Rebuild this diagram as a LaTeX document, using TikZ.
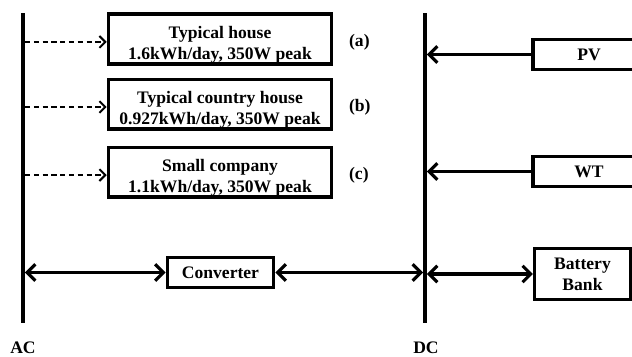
\documentclass[tikz,border=0pt]{standalone}
\usepackage{fontspec}
\setmainfont{Liberation Serif}
\usetikzlibrary{arrows.meta, positioning}

\begin{document}
\begin{tikzpicture}[x=0.03cm, y=-0.03cm,
    font=\bfseries\fontsize{15}{18}\selectfont,
    block/.style={rectangle, draw, line width=2.8pt, align=center, inner sep=0pt},
    loadbox/.style={block, minimum width=6.7cm, text height=38.5pt, text depth=4pt},
    tag/.style={right=0.35cm of #1, yshift=-2.5pt},
    bus/.style={rectangle, fill=black, inner sep=0pt, minimum width=3pt, minimum height=9.3cm},
    feed/.style={line width=2.6pt, -{Straight Barb[length=7pt, width=14pt]}},
    link/.style={line width=2.6pt, {Straight Barb[length=7pt, width=14pt]}-{Straight Barb[length=7pt, width=14pt]}},
    load/.style={line width=1.7pt, dash pattern=on 4.5pt off 3pt, -{Straight Barb[length=5pt, width=10pt]}}]

    \useasboundingbox (0,0) rectangle (632,356);

    % AC and DC buses
    \node [bus] (acbus) at (23,168) {};
    \node [bus] (dcbus) at (425,168) {};
    \node (aclabel) at (23,348) {AC};
    \node (dclabel) at (426,348) {DC};

    % loads on the AC side
    \node [loadbox] (housea) at (220,39) {Typical house\\1.6kWh/day, 350W peak};
    \node [loadbox, below=0.36cm of housea] (houseb) {Typical country house\\0.927kWh/day, 350W peak};
    \node [loadbox, below=0.45cm of houseb] (housec) {Small company\\1.1kWh/day, 350W peak};
    \node [tag=housea] (taga) {(a)};
    \node [tag=houseb] (tagb) {(b)};
    \node [tag=housec] (tagc) {(c)};

    \node [block, minimum width=3.2cm, minimum height=0.92cm] (conv) at (220.5,272.5) {Converter};

    % sources and storage on the DC side
    \node [block, minimum width=3.36cm, minimum height=0.92cm] (pv) at (589,54.5) {PV};
    \node [block, minimum width=3.36cm, minimum height=0.92cm] (wt) at (589,171.5) {WT};
    \node [block, minimum width=2.88cm, minimum height=1.53cm] (batt) at (582.5,274) {Battery\\Bank};

    \draw [load] (acbus.east |- taga) -- (housea.west |- taga);
    \draw [load] (acbus.east |- tagb) -- (houseb.west |- tagb);
    \draw [load] (acbus.east |- tagc) -- (housec.west |- tagc);
    \draw [link] (acbus.east |- conv.west) -- (conv.west);
    \draw [link] (conv.east) -- (dcbus.west |- conv.east);
    \draw [link] (dcbus.east |- batt.west) -- (batt.west);
    \draw [feed] (pv.west) -- (dcbus.east |- pv.west);
    \draw [feed] (wt.west) -- (dcbus.east |- wt.west);
\end{tikzpicture}
\end{document}
